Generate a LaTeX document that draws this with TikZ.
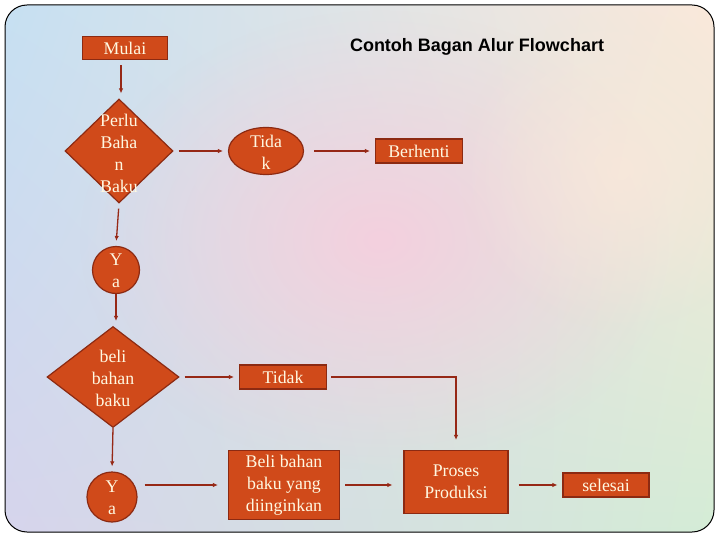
\documentclass[tikz,border=0pt]{standalone}
\usepackage{fontspec}
\setmainfont{Liberation Serif}
\newfontfamily\titlefont{Liberation Sans}
\usetikzlibrary{shapes.geometric,arrows.meta,fadings,shadings}
\tikzfading[name=softout, inner color=transparent!0, outer color=transparent!100]
\definecolor{boxfill}{RGB}{208,74,26}
\definecolor{boxdraw}{RGB}{140,42,18}
\definecolor{arr}{RGB}{150,40,22}
\definecolor{txt}{RGB}{255,248,225}
\definecolor{bgA}{RGB}{198,224,242}
\definecolor{bgB}{RGB}{250,232,218}
\definecolor{bgC}{RGB}{214,212,236}
\definecolor{bgD}{RGB}{212,236,214}
\definecolor{bgP}{RGB}{244,208,222}
\tikzset{
  base/.style={fill=boxfill, draw=boxdraw, line width=1.2pt, text=txt,
    font=\fontsize{17.8}{22}\selectfont, align=center, inner sep=0pt},
  rbox/.style={base, rectangle},
  dia/.style={base, diamond},
  ell/.style={base, ellipse},
  circ/.style={base, circle},
  label/.style={text=txt, font=\fontsize{17.8}{22}\selectfont, align=center, inner sep=0pt},
  conn/.style={draw=arr, line width=1.3pt, -{Latex[length=5pt,width=4.5pt]}, shorten >=5pt, shorten <=5pt}
}
\begin{document}
\begin{tikzpicture}[x=1pt,y=-1pt]
\useasboundingbox (0,0) rectangle (720,540);
\fill[white] (0,0) rectangle (720,540);
\begin{scope}
\clip[rounded corners=22pt] (5,5) rectangle (714,532);
\shade[upper left=bgA, upper right=bgB, lower left=bgC, lower right=bgD] (5,5) rectangle (714,532);
\fill[bgP, path fading=softout] (380,240) ellipse (300pt and 230pt);
\fill[bgB, path fading=softout, opacity=0.8] (620,170) ellipse (160pt and 160pt);
\end{scope}
\draw[black, line width=1pt, rounded corners=22pt] (5,5) rectangle (714,532);

\node[font=\titlefont\bfseries\fontsize{18}{21}\selectfont, anchor=center] (title) at (477,47) {Contoh Bagan Alur Flowchart};

\node[rbox, minimum width=85pt, minimum height=23pt] (mulai) at (125,48) {Mulai};
\node[dia, minimum width=108pt, minimum height=104pt] (d1) at (119,151) {};
\node[label] (d1t) at (119,153) {Perlu\\Baha\\n\\Baku};
\node[ell, minimum width=75pt, minimum height=47pt] (tidak1) at (266,151) {};
\node[label] (tidak1t) at (266,152) {Tida\\k};
\node[rbox, minimum width=87pt, minimum height=24pt] (berhenti) at (419,151) {Berhenti};
\node[circ, minimum size=47pt] (ya1) at (116,270) {};
\node[label] (ya1t) at (116,271) {Y\\a};
\node[dia, minimum width=132pt, minimum height=101pt] (d2) at (113,377) {};
\node[label] (d2t) at (113,378) {beli\\bahan\\baku};
\node[rbox, minimum width=87pt, minimum height=24pt] (tidak2) at (283,377) {Tidak};
\node[circ, minimum size=50pt] (ya2) at (112,497) {};
\node[label] (ya2t) at (112,498) {Y\\a};
\node[rbox, minimum width=111pt, minimum height=69pt] (beli) at (284,485) {Beli bahan\\baku yang\\diinginkan};
\node[rbox, minimum width=104pt, minimum height=63pt] (proses) at (456,482) {Proses\\Produksi};
\node[rbox, minimum width=86pt, minimum height=24pt] (selesai) at (606,485) {selesai};

\draw[conn] (mulai.south -| 121,0) -- (d1.north -| 121,0);
\draw[conn] (d1.east) -- (tidak1.west);
\draw[conn, shorten <=10pt] (tidak1.east) -- (berhenti.west);
\draw[conn] (d1.south) -- (ya1.north);
\draw[conn, shorten <=0pt] (ya1.south) -- (ya1.south |- d2.north);
\draw[conn] (d2.east) -- (tidak2.west);
\draw[conn, shorten <=4pt, shorten >=10pt] (tidak2.east) -| (proses.north);
\draw[conn, shorten <=0pt] (d2.south) -- (ya2.north);
\draw[conn, shorten <=7pt, shorten >=10pt] (ya2.east |- beli.west) -- (beli.west);
\draw[conn, shorten >=11pt] (beli.east) -- (beli.east -| proses.west);
\draw[conn, shorten <=10pt] (proses.east |- selesai.west) -- (selesai.west);
\end{tikzpicture}
\end{document}
